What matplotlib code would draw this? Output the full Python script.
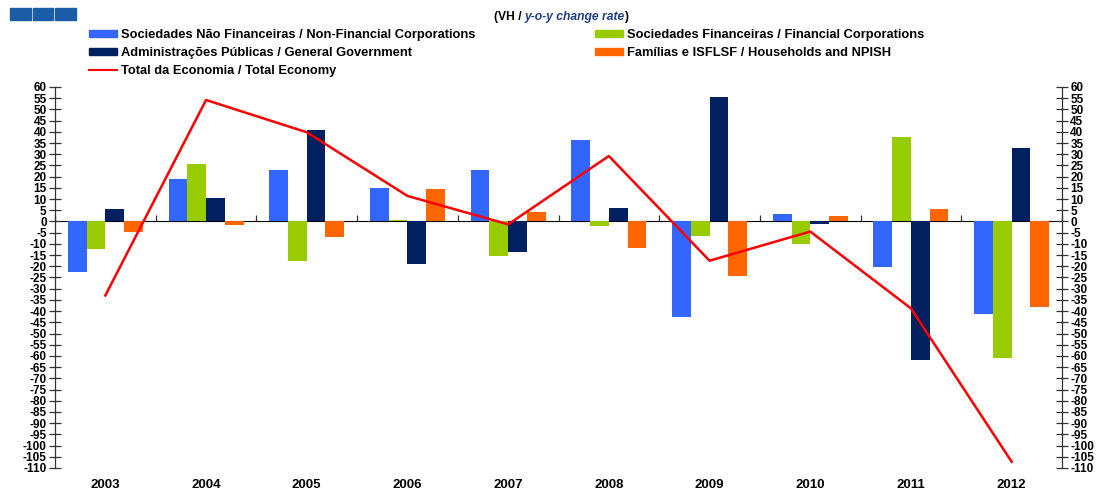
import matplotlib
matplotlib.use("Agg")
import matplotlib.pyplot as plt
import numpy as np
from matplotlib.patches import Rectangle, Patch
from matplotlib.lines import Line2D

plt.rcParams['font.family'] = ['Liberation Sans', 'DejaVu Sans']

years = ['2003', '2004', '2005', '2006', '2007', '2008', '2009', '2010', '2011', '2012']
non_financial = [-22.4, 19.0, 23.0, 15.1, 23.0, 36.4, -42.6, 3.2, -20.3, -41.3]
financial = [-12.4, 25.7, -17.5, 0.5, -15.3, -1.9, -6.5, -10.0, 37.6, -61.0]
general_gov = [5.6, 10.4, 40.8, -19.0, -13.5, 5.9, 55.4, -1.1, -61.8, 32.7]
households = [-4.5, -1.6, -7.0, 14.7, 4.4, -11.7, -24.2, 2.6, 5.4, -38.3]
total = [-33.0, 54.2, 39.8, 11.4, -1.3, 29.2, -17.5, -4.5, -38.8, -107.2]

labels = ['Sociedades Não Financeiras / Non-Financial Corporations',
          'Sociedades Financeiras / Financial Corporations',
          'Administrações Públicas / General Government',
          'Famílias e ISFLSF / Households and NPISH',
          'Total da Economia / Total Economy']
colors = ['#3366FF', '#99CC00', '#002060', '#FF6600']
line_color = '#FF0000'

W, H = 1107, 492
fig = plt.figure(figsize=(W / 100, H / 100), dpi=100)
ax = fig.add_axes([55 / W, 1 - 468 / H, (1062 - 55) / W, (468 - 87) / H])

n = len(years)
x = np.arange(n)
bw = 0.186
series = [non_financial, financial, general_gov, households]
for i, (vals, c) in enumerate(zip(series, colors)):
    ax.bar(x + (i - 1.5) * bw, vals, width=bw, color=c, edgecolor='none', zorder=2)

ax.plot(x, total, color=line_color, lw=1.8, zorder=3)

ax.set_xlim(-0.5, n - 0.5)
ax.set_ylim(-110, 60)
yt = np.arange(-110, 61, 5)
ax.set_yticks(yt)
ax.set_yticklabels([str(v) for v in yt])
ax.tick_params(axis='y', which='major', direction='inout', length=9, width=0.9,
               colors='#333333', labelcolor='black', labelsize=8.5,
               left=True, right=True, labelleft=True, labelright=True, pad=1.5)
for lab in ax.get_yticklabels():
    lab.set_fontweight('bold')

# bottom: year labels only
ax.set_xticks(x)
ax.set_xticklabels(years, fontsize=9.5, fontweight='bold')
ax.tick_params(axis='x', length=0, pad=8)
for s in ['top', 'bottom']:
    ax.spines[s].set_visible(False)
for s in ['left', 'right']:
    ax.spines[s].set_color('#333333')
    ax.spines[s].set_linewidth(0.9)

# zero axis line with category separators
sec = ax.secondary_xaxis(110 / 170)
sec.set_xticks(np.arange(-0.5, n, 1.0))
sec.set_xticklabels([])
sec.tick_params(axis='x', direction='out', length=4, width=0.9, colors='#333333')
sec.spines['bottom'].set_color('#333333')
sec.spines['bottom'].set_linewidth(0.9)

# logo squares
for k in range(3):
    fig.patches.append(Rectangle(((10 + k * 22.5) / W, 1 - 20 / H), 20.5 / W, 12 / H,
                                 transform=fig.transFigure, color='#1A5DA6', zorder=5))

# title in pieces
tfs = 8.7
ty = 1 - 17 / H
t1 = fig.text(494 / W, ty, '(VH / ', fontsize=tfs, fontweight='bold',
              color='black', va='center', ha='left')
fig.canvas.draw()
r = fig.canvas.get_renderer()
bb = t1.get_window_extent(r)
t2 = fig.text(bb.x1 / W, ty, 'y-o-y change rate', fontsize=tfs,
              fontweight='bold', style='italic', color='#1F3F7F', va='center', ha='left')
fig.canvas.draw()
bb2 = t2.get_window_extent(r)
fig.text((bb2.x1 - 1.5) / W, ty, ')', fontsize=tfs, fontweight='bold', color='black',
         va='center', ha='left')

# legend
h = [Patch(color=colors[0]), Patch(color=colors[2]), Line2D([], [], color=line_color, lw=1.5)]
l1 = [labels[0], labels[2], labels[4]]
h2 = [Patch(color=colors[1]), Patch(color=colors[3])]
l2 = [labels[1], labels[3]]
fs = 9.3
common = dict(frameon=False, loc='upper left', borderpad=0, borderaxespad=0,
              handlelength=2.2, handleheight=0.45, handletextpad=0.3, labelspacing=0.45,
              prop={'weight': 'bold', 'size': fs})
fig.legend(h, l1, bbox_to_anchor=(89 / W, 1 - 29 / H), **common)
fig.legend(h2, l2, bbox_to_anchor=(595 / W, 1 - 29 / H), **common)

fig.savefig('out.png', dpi=100)
